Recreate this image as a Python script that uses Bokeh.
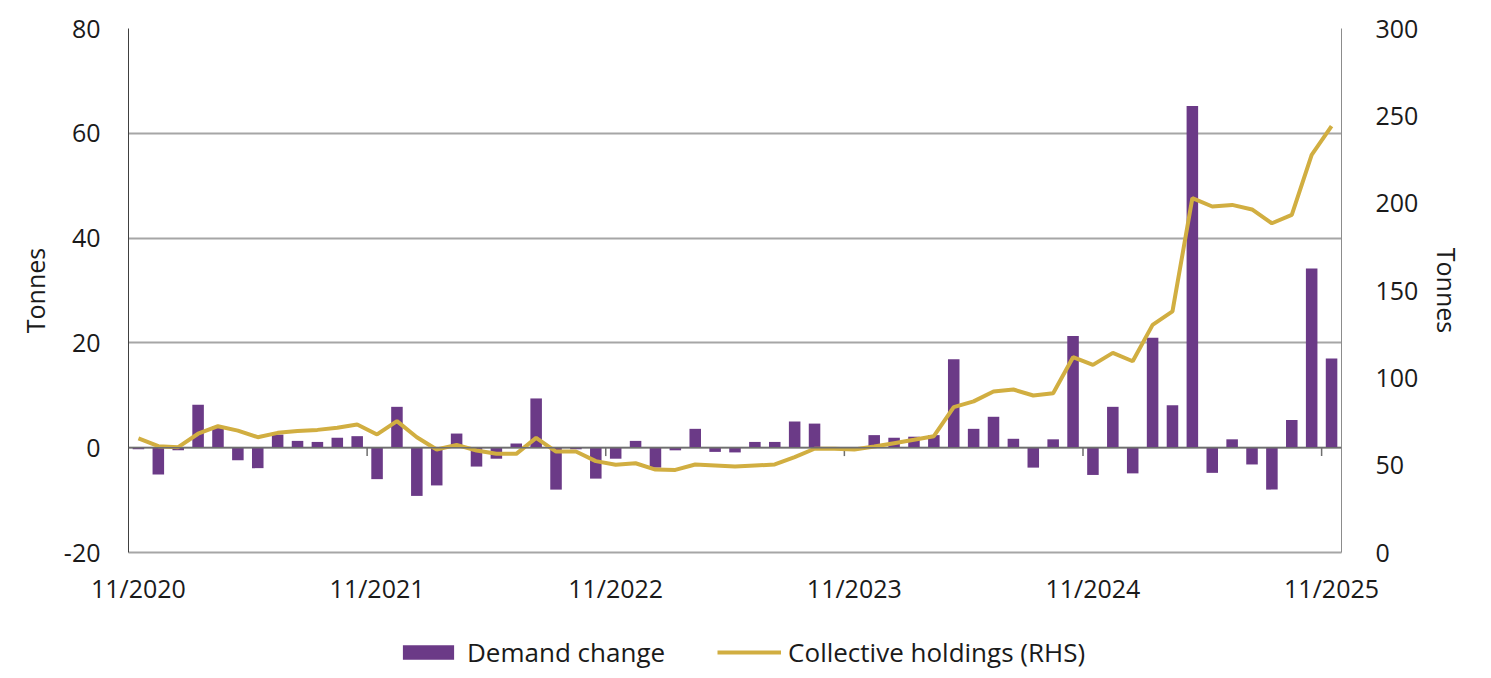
from bokeh.plotting import figure
from bokeh.layouts import column
from bokeh.models import (Range1d, LinearAxis, FixedTicker, Span, Legend, LegendItem,
                          ColumnDataSource)
from bokeh.embed import file_html
from bokeh.resources import INLINE

# ---- data ----
months = list(range(61))  # 11/2020 .. 11/2025, monthly
tick_months = [0, 12, 24, 36, 48, 60]
tick_labels = ["11/2020", "11/2021", "11/2022", "11/2023", "11/2024", "11/2025"]

demand_change = [
    -0.3, -5.1, -0.5, 8.2, 4.1, -2.4, -3.9, 2.5, 1.3, 1.1, 1.9, 2.2,
    -6.0, 7.8, -9.2, -7.2, 2.7, -3.6, -2.1, 0.8, 9.4, -8.0, -0.3, -5.9,
    -2.1, 1.3, -3.8, -0.5, 3.6, -0.8, -0.9, 1.1, 1.1, 5.0, 4.6, 0.0,
    -0.3, 2.4, 1.9, 2.1, 2.4, 16.9, 3.6, 5.9, 1.7, -3.8, 1.6, 21.3,
    -5.2, 7.8, -4.9, 21.0, 8.1, 65.2, -4.8, 1.6, -3.2, -8.0, 5.3, 34.2,
    17.0,
]

collective_holdings = [
    65.4, 60.9, 60.3, 68.0, 72.3, 69.8, 66.0, 68.5, 69.5, 70.2, 71.4, 73.3,
    67.6, 75.2, 66.0, 59.0, 61.6, 58.4, 56.5, 56.5, 65.6, 57.8, 57.8, 52.3,
    50.2, 51.1, 47.5, 47.3, 50.4, 49.8, 49.2, 49.8, 50.4, 54.6, 59.4, 59.4,
    59.0, 60.7, 62.6, 64.5, 66.6, 83.2, 86.5, 92.2, 93.3, 89.9, 91.2, 111.8,
    107.4, 114.3, 109.5, 130.3, 138.0, 202.9, 198.1, 199.0, 196.4, 188.5, 193.3, 227.7,
    244.1,
]

left_ticks = [-20, 0, 20, 40, 60, 80]
right_ticks = [0, 50, 100, 150, 200, 250, 300]

PURPLE = "#6B3A87"
GOLD = "#D1AE41"
FONT = "Open Sans"
FS = "25px"
TXT = "#1A1A1A"
W = 1467

src = ColumnDataSource(dict(x=months, d=demand_change, h=collective_holdings))

p = figure(width=W, height=612, output_backend="svg", toolbar_location=None,
           x_range=Range1d(-0.5, 60.5), y_range=Range1d(-20, 80),
           min_border_left=128, min_border_right=122, min_border_top=28,
           min_border_bottom=60)
p.extra_y_ranges = {"right": Range1d(0, 300)}
p.outline_line_color = None
p.background_fill_color = "white"

# grid
p.xgrid.grid_line_color = None
p.ygrid.ticker = FixedTicker(ticks=left_ticks)
p.ygrid.grid_line_color = "#A6A6A6"
p.ygrid.grid_line_width = 2

# bars
bars = p.vbar(x="x", top="d", bottom=0, width=0.58, source=src,
              fill_color=PURPLE, line_color=None)

# zero line and its category-boundary ticks
p.add_layout(Span(location=0, dimension="width", line_color="#6E6E6E", line_width=1.5))
bnd = [m - 0.5 for m in tick_months[1:]]
p.segment(x0=bnd, x1=bnd, y0=[0] * len(bnd), y1=[-1.6] * len(bnd),
          line_color="#6E6E6E", line_width=1.5)

# holdings line
ln = p.line(x="x", y="h", source=src, y_range_name="right",
            line_color=GOLD, line_width=4)

# axes
xa = p.xaxis[0]
xa.ticker = FixedTicker(ticks=tick_months)
xa.major_label_overrides = {m: l for m, l in zip(tick_months, tick_labels)}
xa.major_tick_line_color = None
xa.minor_tick_line_color = None
xa.axis_line_color = "#A6A6A6"
xa.axis_line_width = 2
xa.major_label_standoff = 12
xa.major_label_text_font = FONT
xa.major_label_text_font_size = FS
xa.major_label_text_color = TXT

ya = p.yaxis[0]
ya.ticker = FixedTicker(ticks=left_ticks)
ya.major_label_overrides = {-20: "-20"}
ya.major_tick_line_color = None
ya.minor_tick_line_color = None
ya.axis_line_color = "#404040"
ya.axis_line_width = 1
ya.major_label_standoff = 22
ya.major_label_text_font = FONT
ya.major_label_text_font_size = FS
ya.major_label_text_color = TXT
ya.axis_label = "Tonnes"
ya.axis_label_text_font = FONT
ya.axis_label_text_font_size = FS
ya.axis_label_text_font_style = "normal"
ya.axis_label_text_color = TXT
ya.axis_label_standoff = 9

ra = LinearAxis(y_range_name="right", ticker=FixedTicker(ticks=right_ticks))
ra.major_tick_line_color = None
ra.minor_tick_line_color = None
ra.axis_line_color = "#8C8C8C"
ra.axis_line_width = 1
ra.major_label_standoff = 28
ra.major_label_text_font = FONT
ra.major_label_text_font_size = FS
ra.major_label_text_color = TXT
ra.axis_label = "Tonnes"
ra.axis_label_text_font = FONT
ra.axis_label_text_font_size = FS
ra.axis_label_text_font_style = "normal"
ra.axis_label_text_color = TXT
ra.axis_label_standoff = 9
p.add_layout(ra, "right")

# legend strip below the chart (its frame is aligned with the chart's frame)
lg = figure(width=W, height=64, output_backend="svg", toolbar_location=None,
            x_range=Range1d(0, 1), y_range=Range1d(0, 1),
            min_border_left=128, min_border_right=122, min_border_top=0,
            min_border_bottom=0, x_axis_type=None, y_axis_type=None)
lg.outline_line_color = None
lg.grid.grid_line_color = None
# legend proxies: one point each, lying outside this strip's visible range
lb = lg.vbar(x=[-10], top=[-9], bottom=[-10], width=0.5, fill_color=PURPLE, line_color=None)
ll = lg.line(x=[-10, -9], y=[-10, -10], line_color=GOLD, line_width=4)
legend = Legend(items=[LegendItem(label="Demand change", renderers=[lb]),
                       LegendItem(label="Collective holdings (RHS)", renderers=[ll])],
                orientation="horizontal", location=(268, 6),
                label_text_font=FONT, label_text_font_size="26px", label_text_color=TXT,
                glyph_width=64, glyph_height=18, label_standoff=7, spacing=52,
                border_line_color=None, background_fill_alpha=0, margin=0, padding=4)
lg.add_layout(legend, "center")

layout = column(p, lg, spacing=0)
open("out.html", "w").write(file_html(layout, INLINE))
